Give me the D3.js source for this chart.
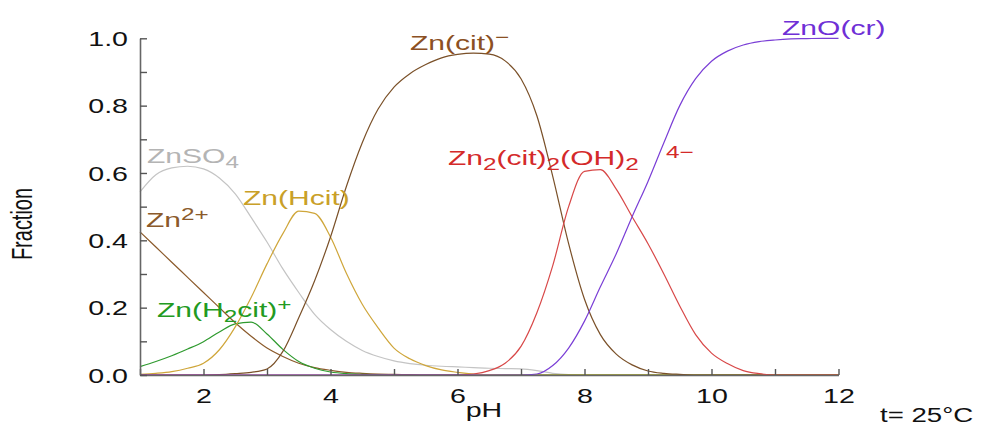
<!DOCTYPE html>
<html>
<head>
<meta charset="utf-8">
<script src="https://cdn.jsdelivr.net/npm/d3@7"></script>
<style>
  body { margin: 0; background: #fff; }
  text { font-family: "Liberation Sans", Arial, sans-serif; }
</style>
</head>
<body>
<div id="chartArea"></div>
<script>
// pH grid, step 0.25 from 1 to 12
var pH = [1, 1.25, 1.5, 1.75, 2, 2.25, 2.5, 2.75, 3, 3.25, 3.5, 3.75, 4, 4.25, 4.5, 4.75,
    5, 5.25, 5.5, 5.75, 6, 6.25, 6.5, 6.75, 7, 7.25, 7.5, 7.75, 8, 8.25, 8.5, 8.75,
    9, 9.25, 9.5, 9.75, 10, 10.25, 10.5, 10.75, 11, 11.25, 11.5, 11.75, 12];

var znSO4 = [0.544, 0.595, 0.615, 0.62, 0.612, 0.585, 0.538, 0.468, 0.395, 0.315, 0.245, 0.18, 0.135, 0.1, 0.073, 0.055,
    0.042, 0.034, 0.029, 0.026, 0.024, 0.022, 0.02, 0.019, 0.018, 0.013, 0.005, 0.001, 0, 0, 0, 0,
    0, 0, 0, 0, 0, 0, 0, 0, 0, 0, 0, 0, 0];
var zn2 = [0.425, 0.38, 0.335, 0.29, 0.245, 0.2, 0.155, 0.115, 0.08, 0.055, 0.035, 0.022, 0.014, 0.008, 0.005, 0.003,
    0.002, 0.001, 0, 0, 0, 0, 0, 0, 0, 0, 0, 0, 0, 0, 0, 0,
    0, 0, 0, 0, 0, 0, 0, 0, 0, 0, 0, 0, 0];
var znH2cit = [0.025, 0.04, 0.057, 0.077, 0.099, 0.128, 0.152, 0.157, 0.122, 0.076, 0.04, 0.02, 0.009, 0.004, 0.002, 0.001,
    0, 0, 0, 0, 0, 0, 0, 0, 0, 0, 0, 0, 0, 0, 0, 0,
    0, 0, 0, 0, 0, 0, 0, 0, 0, 0, 0, 0, 0];
var znHcit = [0.002, 0.005, 0.01, 0.02, 0.035, 0.075, 0.143, 0.23, 0.33, 0.42, 0.487, 0.48, 0.41, 0.302, 0.21, 0.14,
    0.08, 0.048, 0.028, 0.015, 0.008, 0.003, 0.001, 0, 0, 0, 0, 0, 0, 0, 0, 0,
    0, 0, 0, 0, 0, 0, 0, 0, 0, 0, 0, 0, 0];
var znCit = [0, 0, 0, 0, 0, 0.001, 0.004, 0.008, 0.018, 0.07, 0.17, 0.28, 0.41, 0.56, 0.69, 0.79,
    0.855, 0.895, 0.922, 0.942, 0.952, 0.956, 0.953, 0.933, 0.88, 0.77, 0.59, 0.39, 0.225, 0.12, 0.062, 0.03,
    0.012, 0.005, 0.002, 0, 0, 0, 0, 0, 0, 0, 0, 0, 0];
var zn2cit2OH2 = [0, 0, 0, 0, 0, 0, 0, 0, 0, 0, 0, 0, 0, 0, 0, 0,
    0, 0, 0, 0, 0, 0.003, 0.013, 0.035, 0.085, 0.185, 0.325, 0.5, 0.605, 0.61, 0.552, 0.47,
    0.39, 0.3, 0.205, 0.12, 0.065, 0.034, 0.013, 0.004, 0, 0, 0, 0, 0];
var znO = [0, 0, 0, 0, 0, 0, 0, 0, 0, 0, 0, 0, 0, 0, 0, 0,
    0, 0, 0, 0, 0, 0, 0, 0, 0, 0.003, 0.028, 0.08, 0.16, 0.262, 0.36, 0.47,
    0.575, 0.69, 0.8, 0.88, 0.932, 0.962, 0.98, 0.99, 0.995, 0.998, 0.999, 1, 1];

var xTicks = [1, 2, 3, 4, 5, 6, 7, 8, 9, 10, 11, 12];
var yTicks = [0, 0.1, 0.2, 0.3, 0.4, 0.5, 0.6, 0.7, 0.8, 0.9, 1.0];

var series = [
    { values: znSO4, color: '#c4c4c4' },
    { values: zn2, color: '#8b5a2b' },
    { values: znH2cit, color: '#2e9a2e' },
    { values: znHcit, color: '#cfa63a' },
    { values: znCit, color: '#7a5028' },
    { values: zn2cit2OH2, color: '#d84848' },
    { values: znO, color: '#7a3ed6' }
];

var w = 986, h = 425;
var sx = 1.43; // the text in the picture is stretched sideways

var svg = d3.select('#chartArea').append('svg')
    .attr('width', w)
    .attr('height', h);

var xScale = d3.scaleLinear()
    .domain([1, 12])
    .range([140, 838.5]);

var yScale = d3.scaleLinear()
    .domain([0, 1])
    .range([375, 38.3]);

// curves
var line = d3.line()
    .curve(d3.curveMonotoneX)
    .x(function (d) { return xScale(d[0]); })
    .y(function (d) { return yScale(d[1]); });

svg.selectAll('path.curve')
    .data(series)
    .enter()
    .append('path')
    .attr('class', 'curve')
    .attr('fill', 'none')
    .attr('stroke', function (d) { return d.color; })
    .attr('stroke-width', 1.2)
    .attr('d', function (d) {
        return line(d3.zip(pH, d.values));
    });

// axes, ticks pointing inward
var xAxis = d3.axisBottom(xScale)
    .tickValues(xTicks)
    .tickSizeInner(-6)
    .tickSizeOuter(0)
    .tickPadding(14)
    .tickFormat(function (d) { return d % 2 === 0 ? d : ''; });

var yAxis = d3.axisLeft(yScale)
    .tickValues(yTicks)
    .tickSizeInner(-7)
    .tickSizeOuter(0)
    .tickPadding(12)
    .tickFormat(function (d, i) { return i % 2 === 0 ? d3.format('.1f')(d) : ''; });

var gx = svg.append('g')
    .attr('transform', 'translate(0,' + yScale(0) + ')')
    .call(xAxis);

var gy = svg.append('g')
    .attr('transform', 'translate(' + xScale(1) + ',0)')
    .call(yAxis);

[gx, gy].forEach(function (g) {
    g.selectAll('.domain').attr('stroke', '#666').attr('stroke-width', 1.6);
    g.selectAll('.tick line').attr('stroke', '#555').attr('stroke-width', 1.4);
    g.selectAll('.tick text')
        .attr('font-size', 20)
        .attr('fill', '#111')
        .attr('transform', 'scale(' + sx + ',1)')
        .style('font-family', '"Liberation Sans", Arial, sans-serif');
});
gy.selectAll('.tick text').attr('x', -12 / sx).attr('dy', '0.36em');

// axis titles
svg.append('text')
    .attr('transform', 'translate(32,224) rotate(-90) scale(1,' + sx + ')')
    .attr('text-anchor', 'middle')
    .attr('font-size', 20)
    .attr('fill', '#111')
    .text('Fraction');

svg.append('text')
    .attr('transform', 'translate(484,417) scale(' + sx + ',1)')
    .attr('text-anchor', 'middle')
    .attr('font-size', 20)
    .attr('fill', '#111')
    .text('pH');

svg.append('text')
    .attr('transform', 'translate(880,422) scale(1.38,1)')
    .attr('font-size', 20)
    .attr('fill', '#111')
    .text('t= 25°C');

// species labels: parts are [text, shift] where shift is 0, 'sub' or 'sup'
var labels = [
    { x: 147, y: 163, color: '#b4b4b4', parts: [['ZnSO', 0], ['4', 'sub']] },
    { x: 146, y: 227, color: '#8b5a2b', parts: [['Zn', 0], ['2+', 'sup']] },
    { x: 243, y: 205, color: '#c9a028', parts: [['Zn(Hcit)', 0]] },
    { x: 157, y: 317, color: '#229a22', parts: [['Zn(H', 0], ['2', 'sub'], ['cit)', 0], ['+', 'sup']] },
    { x: 410, y: 50, color: '#8b5023', parts: [['Zn(cit)', 0], ['\u2212', 'sup']] },
    { x: 448, y: 165, color: '#d42a2a', parts: [['Zn', 0], ['2', 'sub'], ['(cit)', 0], ['2', 'sub'], ['(OH)', 0], ['2', 'sub']] },
    { x: 666, y: 158, color: '#d42a2a', parts: [['4\u2212', 0]], small: true },
    { x: 782, y: 35, color: '#6f2fd6', parts: [['ZnO(cr)', 0]] }
];

labels.forEach(function (lb) {
    var t = svg.append('text')
        .attr('transform', 'translate(' + lb.x + ',' + lb.y + ') scale(' + sx + ',1)')
        .attr('font-size', lb.small ? 17 : 21)
        .attr('fill', lb.color);
    var shift = 0;
    lb.parts.forEach(function (p) {
        var target = p[1] === 'sub' ? 5 : (p[1] === 'sup' ? -7 : 0);
        t.append('tspan')
            .attr('dy', target - shift)
            .attr('font-size', p[1] || lb.small ? 17 : 21)
            .text(p[0]);
        shift = target;
    });
});
</script>
</body>
</html>
